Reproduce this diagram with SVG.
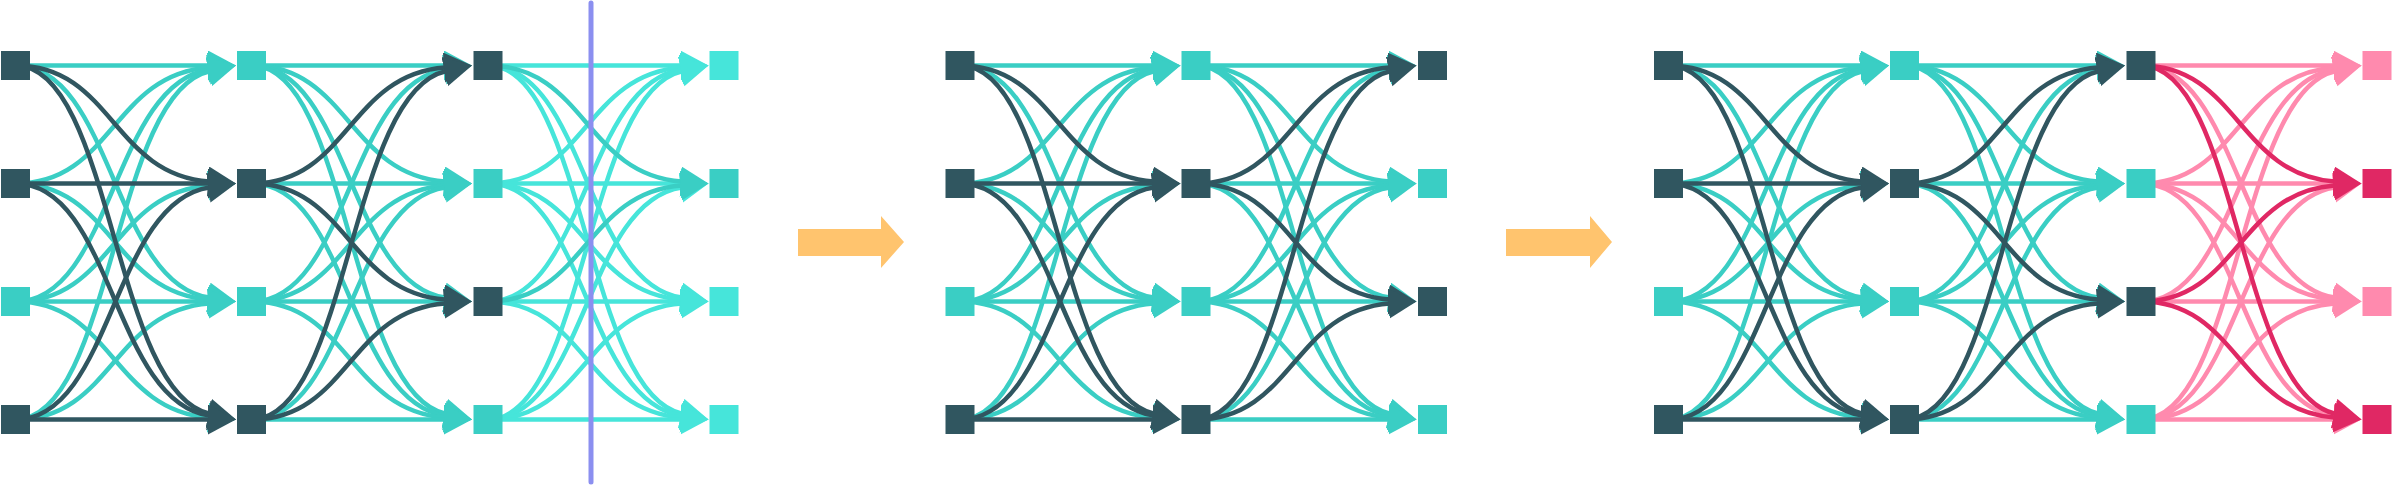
<svg xmlns="http://www.w3.org/2000/svg" width="2393" height="485" viewBox="0 0 2393 485">
<style>
.e{fill:none;stroke-width:4.5;stroke-linecap:butt}
.et{stroke:#3acec4;marker-end:url(#mt)}
.ed{stroke:#305660;marker-end:url(#md)}
.eb{stroke:#46e5da;marker-end:url(#mb)}
.elp{stroke:#ff8aae;marker-end:url(#mlp)}
.edp{stroke:#e02864;marker-end:url(#mdp)}
.nd{fill:#305660}
.nt{fill:#3acec4}
.nb{fill:#46e5da}
.nlp{fill:#ff8aae}
.ndp{fill:#e02864}
.big{fill:#ffc46e}
</style>
<defs>
<marker id="mt" markerUnits="userSpaceOnUse" viewBox="0 0 30 32" markerWidth="30" markerHeight="32" refX="1" refY="15" orient="auto"><path d="M0 0L28 15L0 30z" fill="#3acec4"/></marker>
<marker id="md" markerUnits="userSpaceOnUse" viewBox="0 0 30 32" markerWidth="30" markerHeight="32" refX="1" refY="15" orient="auto"><path d="M0 0L28 15L0 30z" fill="#305660"/></marker>
<marker id="mb" markerUnits="userSpaceOnUse" viewBox="0 0 30 32" markerWidth="30" markerHeight="32" refX="1" refY="15" orient="auto"><path d="M0 0L28 15L0 30z" fill="#46e5da"/></marker>
<marker id="mlp" markerUnits="userSpaceOnUse" viewBox="0 0 30 32" markerWidth="30" markerHeight="32" refX="1" refY="15" orient="auto"><path d="M0 0L28 15L0 30z" fill="#ff8aae"/></marker>
<marker id="mdp" markerUnits="userSpaceOnUse" viewBox="0 0 30 32" markerWidth="30" markerHeight="32" refX="1" refY="15" orient="auto"><path d="M0 0L28 15L0 30z" fill="#e02864"/></marker>
</defs>
<rect width="2393" height="485" fill="#ffffff"/>
<g id="connectors">
<!-- Diagram 1, col1 -> col2 -->
<g class="e et">
<path d="M15.5 65.5c96.75 0 96.75 0 193.5 0"/>
<path d="M15.5 65.5c96.75 0 97.04 217.93 193.79 232.09"/>
<path d="M15.5 183.5c96.75 0 96.82 -108.95 193.57 -116.03"/>
<path d="M15.5 183.5c96.75 0 96.82 108.95 193.57 116.03"/>
<path d="M15.5 301.5c96.75 0 97.04 -217.93 193.79 -232.09"/>
<path d="M15.5 301.5c96.75 0 96.82 -108.95 193.57 -116.03"/>
<path d="M15.5 301.5c96.75 0 96.75 0 193.5 0"/>
<path d="M15.5 301.5c96.75 0 96.82 108.95 193.57 116.03"/>
<path d="M15.5 419.5c96.75 0 97.38 -326.97 194.13 -348.21"/>
<path d="M15.5 419.5c96.75 0 96.82 -108.95 193.57 -116.03"/>
</g>
<g class="e ed">
<path d="M15.5 65.5c96.75 0 96.82 108.95 193.57 116.03"/>
<path d="M15.5 65.5c96.75 0 97.38 326.97 194.13 348.21"/>
<path d="M15.5 183.5c96.75 0 96.75 0 193.5 0"/>
<path d="M15.5 183.5c96.75 0 97.04 217.93 193.79 232.09"/>
<path d="M15.5 419.5c96.75 0 97.04 -217.93 193.79 -232.09"/>
<path d="M15.5 419.5c96.75 0 96.75 0 193.5 0"/>
</g>
<!-- Diagram 1, col2 -> col3 -->
<g class="e et">
<path d="M251.5 65.5c96.75 0 96.75 0 193.5 0"/>
<path d="M251.5 65.5c96.75 0 96.82 108.95 193.57 116.03"/>
<path d="M251.5 65.5c96.75 0 97.04 217.93 193.79 232.09"/>
<path d="M251.5 65.5c96.75 0 97.38 326.97 194.13 348.21"/>
<path d="M251.5 183.5c96.75 0 96.75 0 193.5 0"/>
<path d="M251.5 183.5c96.75 0 97.04 217.93 193.79 232.09"/>
<path d="M251.5 301.5c96.75 0 97.04 -217.93 193.79 -232.09"/>
<path d="M251.5 301.5c96.75 0 96.82 -108.95 193.57 -116.03"/>
<path d="M251.5 301.5c96.75 0 96.75 0 193.5 0"/>
<path d="M251.5 301.5c96.75 0 96.82 108.95 193.57 116.03"/>
<path d="M251.5 419.5c96.75 0 97.04 -217.93 193.79 -232.09"/>
<path d="M251.5 419.5c96.75 0 96.75 0 193.5 0"/>
</g>
<g class="e ed">
<path d="M251.5 183.5c96.75 0 96.82 -108.95 193.57 -116.03"/>
<path d="M251.5 183.5c96.75 0 96.82 108.95 193.57 116.03"/>
<path d="M251.5 419.5c96.75 0 97.38 -326.97 194.13 -348.21"/>
<path d="M251.5 419.5c96.75 0 96.82 -108.95 193.57 -116.03"/>
</g>
<!-- Diagram 1, col3 -> col4 -->
<g class="e eb">
<path d="M488 65.5c96.75 0 96.75 0 193.5 0"/>
<path d="M488 65.5c96.75 0 97.04 217.93 193.79 232.09"/>
<path d="M488 65.5c96.75 0 97.38 326.97 194.13 348.21"/>
<path d="M488 183.5c96.75 0 96.82 -108.95 193.57 -116.03"/>
<path d="M488 183.5c96.75 0 96.75 0 193.5 0"/>
<path d="M488 183.5c96.75 0 96.82 108.95 193.57 116.03"/>
<path d="M488 183.5c96.75 0 97.04 217.93 193.79 232.09"/>
<path d="M488 301.5c96.75 0 97.04 -217.93 193.79 -232.09"/>
<path d="M488 301.5c96.75 0 96.75 0 193.5 0"/>
<path d="M488 301.5c96.75 0 96.82 108.95 193.57 116.03"/>
<path d="M488 419.5c96.75 0 97.38 -326.97 194.13 -348.21"/>
<path d="M488 419.5c96.75 0 97.04 -217.93 193.79 -232.09"/>
<path d="M488 419.5c96.75 0 96.82 -108.95 193.57 -116.03"/>
<path d="M488 419.5c96.75 0 96.75 0 193.5 0"/>
</g>
<g class="e et">
<path d="M488 65.5c96.75 0 96.82 108.95 193.57 116.03"/>
<path d="M488 301.5c96.75 0 96.82 -108.95 193.57 -116.03"/>
</g>
<!-- Diagram 2, col1 -> col2 -->
<g class="e et">
<path d="M960 65.5c96.75 0 96.75 0 193.5 0"/>
<path d="M960 65.5c96.75 0 97.04 217.93 193.79 232.09"/>
<path d="M960 183.5c96.75 0 96.82 -108.95 193.57 -116.03"/>
<path d="M960 183.5c96.75 0 96.82 108.95 193.57 116.03"/>
<path d="M960 301.5c96.75 0 97.04 -217.93 193.79 -232.09"/>
<path d="M960 301.5c96.75 0 96.82 -108.95 193.57 -116.03"/>
<path d="M960 301.5c96.75 0 96.75 0 193.5 0"/>
<path d="M960 301.5c96.75 0 96.82 108.95 193.57 116.03"/>
<path d="M960 419.5c96.75 0 97.38 -326.97 194.13 -348.21"/>
<path d="M960 419.5c96.75 0 96.82 -108.95 193.57 -116.03"/>
</g>
<g class="e ed">
<path d="M960 65.5c96.75 0 96.82 108.95 193.57 116.03"/>
<path d="M960 65.5c96.75 0 97.38 326.97 194.13 348.21"/>
<path d="M960 183.5c96.75 0 96.75 0 193.5 0"/>
<path d="M960 183.5c96.75 0 97.04 217.93 193.79 232.09"/>
<path d="M960 419.5c96.75 0 97.04 -217.93 193.79 -232.09"/>
<path d="M960 419.5c96.75 0 96.75 0 193.5 0"/>
</g>
<!-- Diagram 2, col2 -> col3 -->
<g class="e et">
<path d="M1196 65.5c96.75 0 96.75 0 193.5 0"/>
<path d="M1196 65.5c96.75 0 96.82 108.95 193.57 116.03"/>
<path d="M1196 65.5c96.75 0 97.04 217.93 193.79 232.09"/>
<path d="M1196 65.5c96.75 0 97.38 326.97 194.13 348.21"/>
<path d="M1196 183.5c96.75 0 96.75 0 193.5 0"/>
<path d="M1196 183.5c96.75 0 97.04 217.93 193.79 232.09"/>
<path d="M1196 301.5c96.75 0 97.04 -217.93 193.79 -232.09"/>
<path d="M1196 301.5c96.75 0 96.82 -108.95 193.57 -116.03"/>
<path d="M1196 301.5c96.75 0 96.75 0 193.5 0"/>
<path d="M1196 301.5c96.75 0 96.82 108.95 193.57 116.03"/>
<path d="M1196 419.5c96.75 0 97.04 -217.93 193.79 -232.09"/>
<path d="M1196 419.5c96.75 0 96.75 0 193.5 0"/>
</g>
<g class="e ed">
<path d="M1196 183.5c96.75 0 96.82 -108.95 193.57 -116.03"/>
<path d="M1196 183.5c96.75 0 96.82 108.95 193.57 116.03"/>
<path d="M1196 419.5c96.75 0 97.38 -326.97 194.13 -348.21"/>
<path d="M1196 419.5c96.75 0 96.82 -108.95 193.57 -116.03"/>
</g>
<!-- Diagram 3, col1 -> col2 -->
<g class="e et">
<path d="M1668.5 65.5c96.75 0 96.75 0 193.5 0"/>
<path d="M1668.5 65.5c96.75 0 97.04 217.93 193.79 232.09"/>
<path d="M1668.5 183.5c96.75 0 96.82 -108.95 193.57 -116.03"/>
<path d="M1668.5 183.5c96.75 0 96.82 108.95 193.57 116.03"/>
<path d="M1668.5 301.5c96.75 0 97.04 -217.93 193.79 -232.09"/>
<path d="M1668.5 301.5c96.75 0 96.82 -108.95 193.57 -116.03"/>
<path d="M1668.5 301.5c96.75 0 96.75 0 193.5 0"/>
<path d="M1668.5 301.5c96.75 0 96.82 108.95 193.57 116.03"/>
<path d="M1668.5 419.5c96.75 0 97.38 -326.97 194.13 -348.21"/>
<path d="M1668.5 419.5c96.75 0 96.82 -108.95 193.57 -116.03"/>
</g>
<g class="e ed">
<path d="M1668.5 65.5c96.75 0 96.82 108.95 193.57 116.03"/>
<path d="M1668.5 65.5c96.75 0 97.38 326.97 194.13 348.21"/>
<path d="M1668.5 183.5c96.75 0 96.75 0 193.5 0"/>
<path d="M1668.5 183.5c96.75 0 97.04 217.93 193.79 232.09"/>
<path d="M1668.5 419.5c96.75 0 97.04 -217.93 193.79 -232.09"/>
<path d="M1668.5 419.5c96.75 0 96.75 0 193.5 0"/>
</g>
<!-- Diagram 3, col2 -> col3 -->
<g class="e et">
<path d="M1904.5 65.5c96.75 0 96.75 0 193.5 0"/>
<path d="M1904.5 65.5c96.75 0 96.82 108.95 193.57 116.03"/>
<path d="M1904.5 65.5c96.75 0 97.04 217.93 193.79 232.09"/>
<path d="M1904.5 65.5c96.75 0 97.38 326.97 194.13 348.21"/>
<path d="M1904.5 183.5c96.75 0 96.75 0 193.5 0"/>
<path d="M1904.5 183.5c96.75 0 97.04 217.93 193.79 232.09"/>
<path d="M1904.5 301.5c96.75 0 97.04 -217.93 193.79 -232.09"/>
<path d="M1904.5 301.5c96.75 0 96.82 -108.95 193.57 -116.03"/>
<path d="M1904.5 301.5c96.75 0 96.75 0 193.5 0"/>
<path d="M1904.5 301.5c96.75 0 96.82 108.95 193.57 116.03"/>
<path d="M1904.5 419.5c96.75 0 97.04 -217.93 193.79 -232.09"/>
<path d="M1904.5 419.5c96.75 0 96.75 0 193.5 0"/>
</g>
<g class="e ed">
<path d="M1904.5 183.5c96.75 0 96.82 -108.95 193.57 -116.03"/>
<path d="M1904.5 183.5c96.75 0 96.82 108.95 193.57 116.03"/>
<path d="M1904.5 419.5c96.75 0 97.38 -326.97 194.13 -348.21"/>
<path d="M1904.5 419.5c96.75 0 96.82 -108.95 193.57 -116.03"/>
</g>
<!-- Diagram 3, col3 -> col4 -->
<g class="e elp">
<path d="M2141 65.5c96.75 0 96.75 0 193.5 0"/>
<path d="M2141 65.5c96.75 0 97.04 217.93 193.79 232.09"/>
<path d="M2141 183.5c96.75 0 96.82 -108.95 193.57 -116.03"/>
<path d="M2141 183.5c96.75 0 96.75 0 193.5 0"/>
<path d="M2141 183.5c96.75 0 96.82 108.95 193.57 116.03"/>
<path d="M2141 183.5c96.75 0 97.04 217.93 193.79 232.09"/>
<path d="M2141 301.5c96.75 0 97.04 -217.93 193.79 -232.09"/>
<path d="M2141 301.5c96.75 0 96.75 0 193.5 0"/>
<path d="M2141 419.5c96.75 0 97.38 -326.97 194.13 -348.21"/>
<path d="M2141 419.5c96.75 0 97.04 -217.93 193.79 -232.09"/>
<path d="M2141 419.5c96.75 0 96.82 -108.95 193.57 -116.03"/>
<path d="M2141 419.5c96.75 0 96.75 0 193.5 0"/>
</g>
<g class="e edp">
<path d="M2141 65.5c96.75 0 96.82 108.95 193.57 116.03"/>
<path d="M2141 65.5c96.75 0 97.38 326.97 194.13 348.21"/>
<path d="M2141 301.5c96.75 0 96.82 -108.95 193.57 -116.03"/>
<path d="M2141 301.5c96.75 0 96.82 108.95 193.57 116.03"/>
</g>
</g>
<!-- Diagram 1 nodes -->
<g id="d1-c1-r1"><rect class="nd" x="1" y="51" width="29" height="29"/></g>
<g id="d1-c1-r2"><rect class="nd" x="1" y="169" width="29" height="29"/></g>
<g id="d1-c1-r3"><rect class="nt" x="1" y="287" width="29" height="29"/></g>
<g id="d1-c1-r4"><rect class="nd" x="1" y="405" width="29" height="29"/></g>
<g id="d1-c2-r1"><rect class="nt" x="237" y="51" width="29" height="29"/></g>
<g id="d1-c2-r2"><rect class="nd" x="237" y="169" width="29" height="29"/></g>
<g id="d1-c2-r3"><rect class="nt" x="237" y="287" width="29" height="29"/></g>
<g id="d1-c2-r4"><rect class="nd" x="237" y="405" width="29" height="29"/></g>
<g id="d1-c3-r1"><rect class="nd" x="473.5" y="51" width="29" height="29"/></g>
<g id="d1-c3-r2"><rect class="nt" x="473.5" y="169" width="29" height="29"/></g>
<g id="d1-c3-r3"><rect class="nd" x="473.5" y="287" width="29" height="29"/></g>
<g id="d1-c3-r4"><rect class="nt" x="473.5" y="405" width="29" height="29"/></g>
<g id="d1-c4-r1"><rect class="nb" x="709.5" y="51" width="29" height="29"/></g>
<g id="d1-c4-r2"><rect class="nt" x="709.5" y="169" width="29" height="29"/></g>
<g id="d1-c4-r3"><rect class="nb" x="709.5" y="287" width="29" height="29"/></g>
<g id="d1-c4-r4"><rect class="nb" x="709.5" y="405" width="29" height="29"/></g>
<!-- Diagram 2 nodes -->
<g id="d2-c1-r1"><rect class="nd" x="945.5" y="51" width="29" height="29"/></g>
<g id="d2-c1-r2"><rect class="nd" x="945.5" y="169" width="29" height="29"/></g>
<g id="d2-c1-r3"><rect class="nt" x="945.5" y="287" width="29" height="29"/></g>
<g id="d2-c1-r4"><rect class="nd" x="945.5" y="405" width="29" height="29"/></g>
<g id="d2-c2-r1"><rect class="nt" x="1181.5" y="51" width="29" height="29"/></g>
<g id="d2-c2-r2"><rect class="nd" x="1181.5" y="169" width="29" height="29"/></g>
<g id="d2-c2-r3"><rect class="nt" x="1181.5" y="287" width="29" height="29"/></g>
<g id="d2-c2-r4"><rect class="nd" x="1181.5" y="405" width="29" height="29"/></g>
<g id="d2-c3-r1"><rect class="nd" x="1418" y="51" width="29" height="29"/></g>
<g id="d2-c3-r2"><rect class="nt" x="1418" y="169" width="29" height="29"/></g>
<g id="d2-c3-r3"><rect class="nd" x="1418" y="287" width="29" height="29"/></g>
<g id="d2-c3-r4"><rect class="nt" x="1418" y="405" width="29" height="29"/></g>
<!-- Diagram 3 nodes -->
<g id="d3-c1-r1"><rect class="nd" x="1654" y="51" width="29" height="29"/></g>
<g id="d3-c1-r2"><rect class="nd" x="1654" y="169" width="29" height="29"/></g>
<g id="d3-c1-r3"><rect class="nt" x="1654" y="287" width="29" height="29"/></g>
<g id="d3-c1-r4"><rect class="nd" x="1654" y="405" width="29" height="29"/></g>
<g id="d3-c2-r1"><rect class="nt" x="1890" y="51" width="29" height="29"/></g>
<g id="d3-c2-r2"><rect class="nd" x="1890" y="169" width="29" height="29"/></g>
<g id="d3-c2-r3"><rect class="nt" x="1890" y="287" width="29" height="29"/></g>
<g id="d3-c2-r4"><rect class="nd" x="1890" y="405" width="29" height="29"/></g>
<g id="d3-c3-r1"><rect class="nd" x="2126.5" y="51" width="29" height="29"/></g>
<g id="d3-c3-r2"><rect class="nt" x="2126.5" y="169" width="29" height="29"/></g>
<g id="d3-c3-r3"><rect class="nd" x="2126.5" y="287" width="29" height="29"/></g>
<g id="d3-c3-r4"><rect class="nt" x="2126.5" y="405" width="29" height="29"/></g>
<g id="d3-c4-r1"><rect class="nlp" x="2362.5" y="51" width="29" height="29"/></g>
<g id="d3-c4-r2"><rect class="ndp" x="2362.5" y="169" width="29" height="29"/></g>
<g id="d3-c4-r3"><rect class="nlp" x="2362.5" y="287" width="29" height="29"/></g>
<g id="d3-c4-r4"><rect class="ndp" x="2362.5" y="405" width="29" height="29"/></g>
<!-- cut line -->
<g id="cut-line"><line x1="591" y1="3" x2="591" y2="482" stroke="#8b8ff0" stroke-width="5" stroke-linecap="round"/></g>
<!-- transition arrows -->
<g id="step-arrow-1"><polygon class="big" points="798,229 881,229 881,216 904,242 881,268 881,256 798,256"/></g>
<g id="step-arrow-2"><polygon class="big" points="1506,229 1590,229 1590,216 1612,242 1590,268 1590,256 1506,256"/></g>
</svg>
